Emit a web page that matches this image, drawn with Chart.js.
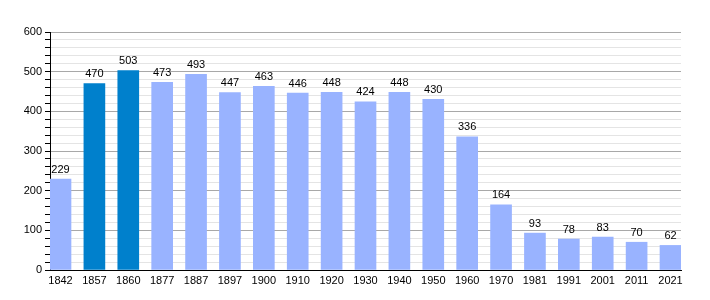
<!DOCTYPE html>
<html lang="en">
<head>
    <meta charset="UTF-8">
    <title>Population</title>
    <script src="https://cdn.jsdelivr.net/npm/chart.js"></script>
    <style>
        html, body { margin: 0; padding: 0; background: #fff; }
        #wrap { width: 710px; height: 300px; }
    </style>
</head>
<body>
    <div id="wrap"><canvas id="popChart"></canvas></div>

    <script>
        const years = ["1842", "1857", "1860", "1877", "1887", "1897", "1900", "1910", "1920", "1930",
                       "1940", "1950", "1960", "1970", "1981", "1991", "2001", "2011", "2021"];
        const population = [229, 470, 503, 473, 493, 447, 463, 446, 448, 424,
                            448, 430, 336, 164, 93, 78, 83, 70, 62];
        const highlighted = ["1857", "1860"];
        const yTicks = [0, 100, 200, 300, 400, 500, 600];

        const lightBar = "#99b3ff";
        const darkBar = "#0080cc";

        // value labels on top of each bar
        const valueLabels = {
            id: "valueLabels",
            afterDatasetsDraw(chart) {
                const ctx = chart.ctx;
                const meta = chart.getDatasetMeta(0);
                ctx.save();
                ctx.font = "11px 'Liberation Sans', Arial, sans-serif";
                ctx.fillStyle = "#000";
                ctx.textAlign = "center";
                ctx.textBaseline = "bottom";
                meta.data.forEach((bar, i) => {
                    ctx.fillText(population[i], bar.x, bar.y - 4);
                });
                ctx.restore();
            }
        };

        new Chart(document.getElementById("popChart"), {
            type: "bar",
            data: {
                datasets: [{
                    data: population.map((v, i) => ({ x: i, y: v })),
                    backgroundColor: years.map(y => highlighted.includes(y) ? darkBar : lightBar),
                    barThickness: 21,
                    borderWidth: 0
                }]
            },
            options: {
                responsive: true,
                maintainAspectRatio: false,
                animation: false,
                layout: { padding: { top: 32, right: 29, left: 0, bottom: 0 } },
                plugins: {
                    legend: { display: false },
                    tooltip: { enabled: false }
                },
                scales: {
                    x: {
                        type: "linear",
                        offset: false,
                        min: -0.31,
                        max: 18.31,
                        afterBuildTicks: scale => {
                            scale.ticks = years.map((_, i) => ({ value: i }));
                        },
                        afterFit: scale => { scale.height = 30; },
                        ticks: {
                            autoSkip: false,
                            maxRotation: 0,
                            padding: 4,
                            color: "#000",
                            font: { family: "'Liberation Sans', Arial, sans-serif", size: 11 },
                            callback: v => years[v]
                        },
                        grid: { display: false, drawTicks: false },
                        border: { display: true, color: "#000", width: 1 }
                    },
                    y: {
                        min: 0,
                        max: 600,
                        afterBuildTicks: scale => {
                            const t = [];
                            for (let v = 0; v <= 600; v += 20) t.push({ value: v });
                            scale.ticks = t;
                        },
                        afterFit: scale => { scale.width = 50; },
                        ticks: {
                            autoSkip: false,
                            padding: 3,
                            color: "#000",
                            font: { family: "'Liberation Sans', Arial, sans-serif", size: 11 },
                            callback: v => yTicks.includes(v) ? v : ""
                        },
                        grid: {
                            color: c => (c.tick && c.tick.value % 100 === 0) ? "#a8a8a8" : "#e4e4e4",
                            tickColor: "#000",
                            tickLength: 5
                        },
                        border: { display: true, color: "#000", width: 1 }
                    }
                }
            },
            plugins: [valueLabels]
        });
    </script>
</body>
</html>
